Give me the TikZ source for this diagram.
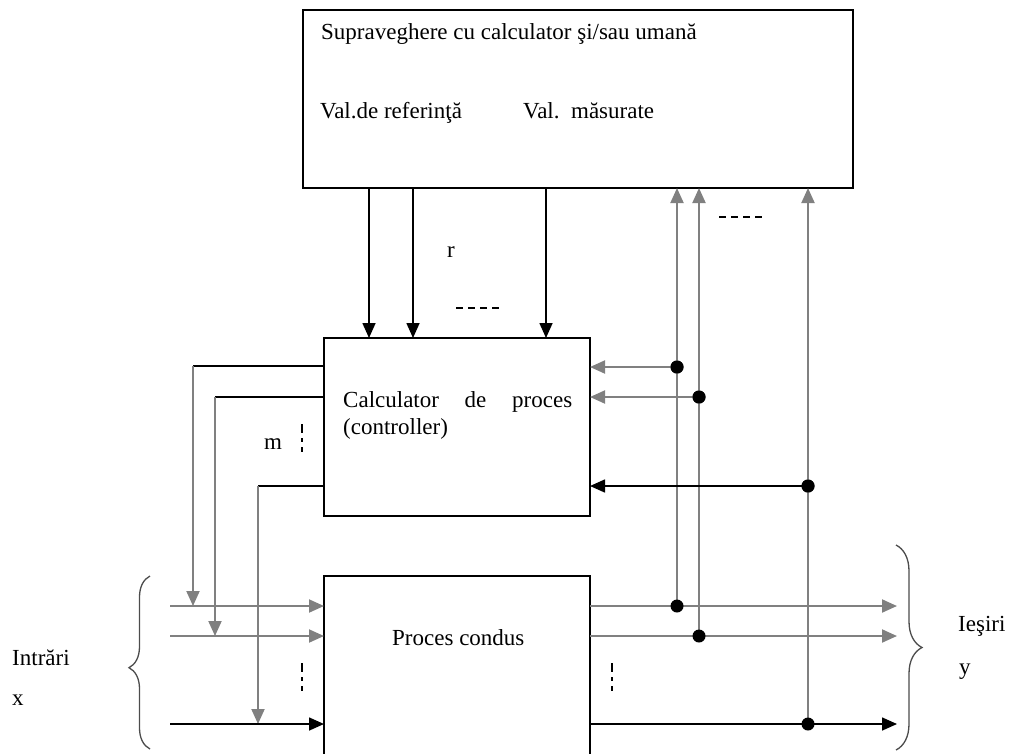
\documentclass[tikz,border=0pt]{standalone}
\usepackage{fontspec}
\setmainfont{Liberation Serif}
\usetikzlibrary{arrows.meta,decorations.pathreplacing}
\begin{document}
\begin{tikzpicture}[x=1pt,y=-1pt,
  box/.style={draw,line width=1.6pt,inner sep=0pt},
  lbl/.style={inner sep=0pt,anchor=base west,font=\fontsize{23}{27}\selectfont},
  blk/.style={line width=1.6pt,black},
  gry/.style={line width=2pt,black!50},
  arr/.style={-{Triangle[length=15pt,width=13pt]}},
  dot/.style={circle,fill=black,inner sep=0pt,minimum size=13pt},
  vdots/.style={line width=1.6pt,dash pattern=on 9pt off 5pt on 4pt off 5pt},
  hdash/.style={line width=1.6pt,dash pattern=on 7pt off 5pt}]
\useasboundingbox (0,0) rectangle (1009,753);
\clip (0,0) rectangle (1009,753);
% boxes
\node[box,minimum width=550pt,minimum height=178pt] (sup) at (578,99) {};
\node[box,minimum width=266pt,minimum height=178pt] (ctrl) at (457,427) {};
\draw[line width=1.6pt] (324,780) -- (324,576) -- (590,576) -- (590,780);
\coordinate (proc) at (457,660);
% texts
\node[lbl] (t1) at (321,39) {Supraveghere cu calculator şi/sau umană};
\node[lbl] (t2) at (320,118) {Val.de referinţă};
\node[lbl] (t3) at (523,118) {Val.\ \ măsurate};
\node[lbl] (t4) at (343,407) {\makebox[229pt][s]{Calculator de proces}};
\node[lbl] (t5) at (343,434) {(controller)};
\node[lbl] (t6) at (392,645) {Proces condus};
\node[lbl] (t7) at (447,257) {r};
\node[lbl] (t8) at (264,449) {m};
\node[lbl] (t9) at (12,665) {Intrări};
\node[lbl] (t10) at (12,705) {x};
\node[lbl] (t11) at (958,631) {Ieşiri};
\node[lbl] (t12) at (959,674) {y};
% reference arrows
\foreach \x/\n in {369/a,413/b,546/c}{
  \coordinate (s\n) at (\x,188);
  \coordinate (c\n) at (\x,338);
  \draw[blk,arr] (s\n) -- (c\n);
}
\draw[hdash] (456,308) -- (500,308);
\draw[hdash] (719,217) -- (763,217);
% feedback taps
\node[dot] (d1) at (677,367) {};
\node[dot] (d2) at (699,397) {};
\node[dot] (d3) at (808,486) {};
\coordinate (o1) at (677,606);
\coordinate (o2) at (699,636);
\coordinate (o3) at (808,724);
\coordinate (u1) at (677,188);
\coordinate (u2) at (699,188);
\coordinate (u3) at (808,188);
\draw[gry,arr] (o1) -- (u1);
\draw[gry,arr] (o2) -- (u2);
\draw[gry,arr] (o3) -- (u3);
\coordinate (f1) at (590,367);
\coordinate (f2) at (590,397);
\coordinate (f3) at (590,486);
\draw[gry,arr] (d1.center) -- (f1);
\draw[gry,arr] (d2.center) -- (f2);
\draw[blk,arr] (d3.center) -- (f3);
\node[dot] at (d1) {};
\node[dot] at (d2) {};
\node[dot] at (d3) {};
% controller outputs
\coordinate (m1) at (324,366);
\coordinate (m2) at (324,397);
\coordinate (m3) at (324,486);
\coordinate (k1) at (193,606);
\coordinate (k2) at (215,636);
\coordinate (k3) at (258,724);
\draw[blk] (m1) -- (193,366);
\draw[blk] (m2) -- (215,397);
\draw[blk] (m3) -- (258,486);
\draw[gry,arr] (193,366) -- (k1);
\draw[gry,arr] (215,397) -- (k2);
\draw[gry,arr] (258,486) -- (k3);
\draw[vdots] (302,424) -- (302,452);
% inputs
\coordinate (i1) at (170,606);
\coordinate (i2) at (170,636);
\coordinate (i3) at (170,724);
\coordinate (p1) at (324,606);
\coordinate (p2) at (324,636);
\coordinate (p3) at (324,724);
\draw[gry,arr] (i1) -- (p1);
\draw[gry,arr] (i2) -- (p2);
\draw[blk,arr] (i3) -- (p3);
\draw[vdots] (302,663) -- (302,691);
% outputs
\coordinate (q1) at (590,606);
\coordinate (q2) at (590,636);
\coordinate (q3) at (590,724);
\coordinate (e1) at (897,606);
\coordinate (e2) at (897,636);
\coordinate (e3) at (897,724);
\draw[gry,arr] (q1) -- (e1);
\draw[gry,arr] (q2) -- (e2);
\draw[blk,arr] (q3) -- (e3);
\draw[vdots] (612,663) -- (612,691);
\node[dot] (n1) at (o1) {};
\node[dot] (n2) at (o2) {};
\node[dot] (n3) at (o3) {};
% braces
\coordinate (lb1) at (150,749);
\coordinate (lb2) at (150,576);
\coordinate (rb1) at (896,545);
\coordinate (rb2) at (896,750);
\draw[line width=1.3pt,black!70,decorate,decoration={brace,amplitude=21pt,aspect=0.47}] (lb1) -- (lb2);
\draw[line width=1.3pt,black!70,decorate,decoration={brace,amplitude=26pt,aspect=0.5}] (rb1) -- (rb2);
\end{tikzpicture}
\end{document}
